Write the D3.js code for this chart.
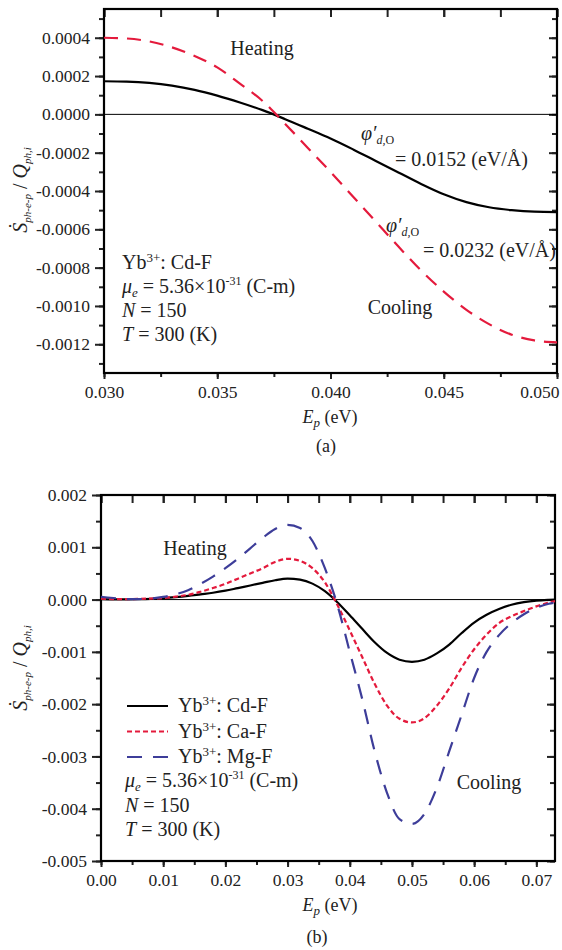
<!DOCTYPE html>
<html>
<head>
<meta charset="utf-8">
<script src="https://cdn.jsdelivr.net/npm/d3@7"></script>
<style>
  body { margin: 0; background: #fff; }
  svg { display: block; }
  text { font-family: "Liberation Serif", "Times New Roman", serif; fill: #222; }
</style>
</head>
<body>
<svg id="chart" width="562" height="950"></svg>
<script>
// ---- panel (a) data ----
const epA = [0.030, 0.031, 0.032, 0.033, 0.034, 0.035, 0.036, 0.037, 0.038, 0.039, 0.040,
             0.041, 0.042, 0.043, 0.044, 0.045, 0.046, 0.047, 0.048, 0.049, 0.050];
// phi'_d,O = 0.0152 eV/A
const sA_0152 = [0.000173, 0.000171, 0.000164, 0.000150, 0.000128, 0.000098, 0.000062, 0.000022,
                 -0.000025, -0.000075, -0.000126, -0.000183, -0.000243, -0.000303, -0.000363,
                 -0.000417, -0.000458, -0.000485, -0.000500, -0.000508, -0.000510];
// phi'_d,O = 0.0232 eV/A
const sA_0232 = [0.000400, 0.000396, 0.000381, 0.000350, 0.000305, 0.000245, 0.000160, 0.000070,
                 -0.000050, -0.000175, -0.000300, -0.000430, -0.000560, -0.000690, -0.000815,
                 -0.000925, -0.001020, -0.001095, -0.001150, -0.001180, -0.001190];
const xTicksA = [0.030, 0.035, 0.040, 0.045, 0.050];
const yTicksA = [0.0004, 0.0002, 0.0000, -0.0002, -0.0004, -0.0006, -0.0008, -0.0010, -0.0012];

// ---- panel (b) data ----
const epB = [0.000, 0.002, 0.004, 0.006, 0.008, 0.010, 0.012, 0.014, 0.016, 0.018, 0.020,
             0.022, 0.024, 0.026, 0.028, 0.030, 0.032, 0.034, 0.036, 0.038, 0.040,
             0.042, 0.044, 0.046, 0.048, 0.050, 0.052, 0.054, 0.056, 0.058, 0.060,
             0.062, 0.064, 0.066, 0.068, 0.070, 0.072, 0.073];
const sB_CdF = [0.000010, 0.000005, 0.000004, 0.000006, 0.000012, 0.000025, 0.000045, 0.000070,
                0.000100, 0.000130, 0.000170, 0.000220, 0.000270, 0.000320, 0.000370, 0.000400,
                0.000381, 0.000305, 0.000160, -0.000050, -0.000300, -0.000560, -0.000815,
                -0.001020, -0.001150, -0.001190, -0.001150, -0.001030, -0.000860, -0.000640,
                -0.000440, -0.000290, -0.000180, -0.000100, -0.000050, -0.000020, -0.000005, 0.000000];
const sB_CaF = [0.000020, 0.000010, 0.000008, 0.000012, 0.000020, 0.000030, 0.000055, 0.000090,
                0.000150, 0.000220, 0.000300, 0.000400, 0.000500, 0.000600, 0.000720, 0.000780,
                0.000740, 0.000600, 0.000330, -0.000100, -0.000590, -0.001100, -0.001610,
                -0.002030, -0.002280, -0.002350, -0.002270, -0.002030, -0.001700, -0.001300,
                -0.000950, -0.000670, -0.000450, -0.000320, -0.000220, -0.000130, -0.000060, -0.000030];
const sB_MgF = [0.000050, 0.000030, 0.000010, 0.000010, 0.000020, 0.000050, 0.000100, 0.000180,
                0.000300, 0.000440, 0.000600, 0.000780, 0.000980, 0.001180, 0.001350, 0.001430,
                0.001370, 0.001120, 0.000600, -0.000100, -0.001000, -0.001900, -0.002900,
                -0.003700, -0.004200, -0.004290, -0.004100, -0.003600, -0.002900, -0.002200,
                -0.001500, -0.001000, -0.000680, -0.000450, -0.000280, -0.000160, -0.000080, -0.000060];
const xTicksB = [0.00, 0.01, 0.02, 0.03, 0.04, 0.05, 0.06, 0.07];
const yTicksB = [0.002, 0.001, 0.000, -0.001, -0.002, -0.003, -0.004, -0.005];

const RED = '#e41a3c', BLUE = '#3d3d99', INK = '#222';

const svg = d3.select('#chart');

function drawFrame(p) {
  const x = d3.scaleLinear().domain(p.xDomain).range([p.x0, p.x1]);
  const y = d3.scaleLinear().domain(p.yDomain).range([p.y1, p.y0]);
  const g = svg.append('g');

  const axes = [
    // left: outward ticks with labels
    { gen: d3.axisLeft, vals: p.yMinor, size: 5, t: `translate(${p.x0},0)`, s: y },
    { gen: d3.axisLeft, vals: p.yTicks, size: 9, t: `translate(${p.x0},0)`, s: y, fmt: p.yFmt, pad: 5 },
    // right: inward
    { gen: d3.axisRight, vals: p.yMinor, size: -5, t: `translate(${p.x1},0)`, s: y },
    { gen: d3.axisRight, vals: p.yTicks, size: -8, t: `translate(${p.x1},0)`, s: y },
    // bottom: outward with labels
    { gen: d3.axisBottom, vals: p.xMinor, size: 4, t: `translate(0,${p.y1})`, s: x },
    { gen: d3.axisBottom, vals: p.xTicks, size: 6, t: `translate(0,${p.y1})`, s: x, fmt: p.xFmt, pad: 7 },
    // top: inward
    { gen: d3.axisTop, vals: p.xMinor, size: -8, t: `translate(0,${p.y0})`, s: x },
    { gen: d3.axisTop, vals: p.xTicks, size: -8, t: `translate(0,${p.y0})`, s: x }
  ];
  axes.forEach(a => {
    const ax = a.gen(a.s).tickValues(a.vals).tickSize(a.size).tickFormat(a.fmt || (() => ''));
    if (a.pad !== undefined) ax.tickPadding(a.pad);
    const ag = g.append('g').attr('transform', a.t).call(ax);
    ag.select('.domain').remove();
    ag.selectAll('line').attr('stroke', INK).attr('stroke-width', 2);
    ag.selectAll('text').attr('font-size', 17.5).attr('fill', INK)
      .attr('font-family', '"Liberation Serif", "Times New Roman", serif');
  });

  // zero line
  g.append('line')
    .attr('x1', p.x0).attr('x2', p.x1)
    .attr('y1', y(0)).attr('y2', y(0))
    .attr('stroke', '#000').attr('stroke-width', 1);

  // frame
  g.append('rect')
    .attr('x', p.x0).attr('y', p.y0)
    .attr('width', p.x1 - p.x0).attr('height', p.y1 - p.y0)
    .attr('fill', 'none').attr('stroke', '#000').attr('stroke-width', 2.2);

  const clipId = 'clip' + p.id;
  svg.append('clipPath').attr('id', clipId).append('rect')
    .attr('x', p.x0).attr('y', p.y0).attr('width', p.x1 - p.x0).attr('height', p.y1 - p.y0);
  const plot = svg.append('g').attr('clip-path', `url(#${clipId})`);

  return { x, y, g, plot };
}

function addLine(ctx, xs, ys, color, dash, width) {
  const line = d3.line()
    .x((d, i) => ctx.x(xs[i]))
    .y(d => ctx.y(d))
    .curve(d3.curveMonotoneX);
  ctx.plot.append('path')
    .datum(ys)
    .attr('fill', 'none')
    .attr('stroke', color)
    .attr('stroke-width', width)
    .attr('stroke-dasharray', dash)
    .attr('d', line);
}

// y-axis label:  S-dot_{ph-e-p} / Q_{ph,i}
function yLabel(cx, cy) {
  const t = svg.append('text')
    .attr('transform', `translate(${cx},${cy}) rotate(-90)`)
    .attr('text-anchor', 'middle')
    .attr('font-size', 20)
    .attr('font-style', 'italic');
  t.append('tspan').text('\u1E60');
  t.append('tspan').attr('font-size', 11).attr('dy', 4).text('ph-e-p');
  t.append('tspan').attr('font-style', 'normal').attr('dy', -4).text(' / ');
  t.append('tspan').text('Q');
  t.append('tspan').attr('font-size', 11).attr('dy', 4).text('ph,i');
}

function xLabel(cx, by) {
  const t = svg.append('text')
    .attr('x', cx).attr('y', by)
    .attr('text-anchor', 'middle')
    .attr('font-size', 18);
  t.append('tspan').attr('font-style', 'italic').text('E');
  t.append('tspan').attr('font-style', 'italic').attr('font-size', 13).attr('dy', 4).text('p');
  t.append('tspan').attr('dy', -4).text(' (eV)');
}

function plainText(x, y, str, size) {
  return svg.append('text').attr('x', x).attr('y', y).attr('font-size', size || 20).text(str);
}

function ybLine(x, y, host) {
  const t = svg.append('text').attr('x', x).attr('y', y).attr('font-size', 20);
  t.append('tspan').text('Yb');
  t.append('tspan').attr('font-size', 13).attr('dy', -7).text('3+');
  t.append('tspan').attr('dy', 7).text(': ' + host);
}

function paramLines(x, y0, step) {
  const mu = svg.append('text').attr('x', x).attr('y', y0).attr('font-size', 20);
  mu.append('tspan').attr('font-style', 'italic').text('\u03BC');
  mu.append('tspan').attr('font-style', 'italic').attr('font-size', 13).attr('dy', 4).text('e');
  mu.append('tspan').attr('dy', -4).text(' = 5.36\u00D710');
  mu.append('tspan').attr('font-size', 12).attr('dy', -8).text('-31');
  mu.append('tspan').attr('dy', 8).text(' (C-m)');

  const n = svg.append('text').attr('x', x).attr('y', y0 + step).attr('font-size', 20);
  n.append('tspan').attr('font-style', 'italic').text('N');
  n.append('tspan').text(' = 150');

  const tt = svg.append('text').attr('x', x).attr('y', y0 + 2 * step).attr('font-size', 20);
  tt.append('tspan').attr('font-style', 'italic').text('T');
  tt.append('tspan').text(' = 300 (K)');
}

// phi'_{d,O} on one line, its value on the next, stepped to the right
function phiLabel(x, y, valueStr, vx, vy) {
  const t = svg.append('text').attr('x', x).attr('y', y).attr('font-size', 20);
  t.append('tspan').attr('font-style', 'italic').text('\u03C6\u2032');
  t.append('tspan').attr('font-style', 'italic').attr('font-size', 12).attr('dy', 4).text('d,');
  t.append('tspan').attr('font-size', 12).text('O');
  svg.append('text').attr('x', vx).attr('y', vy).attr('font-size', 20).text(valueStr);
}

// ---------------- panel (a) ----------------
const A = drawFrame({
  id: 'a',
  xDomain: [0.030, 0.050], yDomain: [-0.00135, 0.00055],
  x0: 104, x1: 557, y0: 9, y1: 373,
  xTicks: xTicksA, yTicks: yTicksA,
  xMinor: d3.range(0, 9).map(i => 0.030 + i * 0.0025),
  yMinor: d3.range(-13, 6).map(i => i * 0.0001),
  xFmt: d => d.toFixed(3), yFmt: d => d.toFixed(4)
});
// shift last x label so it stays inside the picture
A.g.selectAll('text').filter(function () { return d3.select(this).text() === '0.050'; })
  .attr('text-anchor', 'end').attr('dx', 2);

addLine(A, epA, sA_0152, '#000', null, 2.2);
addLine(A, epA, sA_0232, RED, '14,9', 2.2);

yLabel(27, 190);
xLabel(330, 423);
plainText(326, 452, '(a)', 18).attr('text-anchor', 'middle');

plainText(262, 55, 'Heating').attr('text-anchor', 'middle');
plainText(400, 314, 'Cooling').attr('text-anchor', 'middle');
phiLabel(361, 140, '= 0.0152  (eV/\u00C5)', 395, 166);
phiLabel(386, 232, '= 0.0232 (eV/\u00C5)', 423, 257);
ybLine(122, 269, 'Cd-F');
paramLines(122, 293, 24);

// ---------------- panel (b) ----------------
const B = drawFrame({
  id: 'b',
  xDomain: [0, 0.073], yDomain: [-0.005, 0.002],
  x0: 101, x1: 555, y0: 495, y1: 861,
  xTicks: xTicksB, yTicks: yTicksB,
  xMinor: d3.range(0, 15).map(i => i * 0.005),
  yMinor: d3.range(-10, 5).map(i => i * 0.0005),
  xFmt: d => d.toFixed(2), yFmt: d => d.toFixed(3)
});

addLine(B, epB, sB_CdF, '#000', null, 2.2);
addLine(B, epB, sB_CaF, RED, '5,3', 2.2);
addLine(B, epB, sB_MgF, BLUE, '15,11', 2.2);

yLabel(27, 668);
xLabel(330, 911);
plainText(317, 943, '(b)', 18).attr('text-anchor', 'middle');

plainText(195, 555, 'Heating').attr('text-anchor', 'middle');
plainText(489, 789, 'Cooling').attr('text-anchor', 'middle');

// legend
const legend = [
  { host: 'Cd-F', color: '#000', dash: null },
  { host: 'Ca-F', color: RED, dash: '5,3' },
  { host: 'Mg-F', color: BLUE, dash: '15,11' }
];
legend.forEach((d, i) => {
  const yy = 706 + i * 25.5;
  svg.append('line')
    .attr('x1', 127).attr('x2', 168).attr('y1', yy).attr('y2', yy)
    .attr('stroke', d.color).attr('stroke-width', 2.2).attr('stroke-dasharray', d.dash);
  ybLine(178, yy + 6, d.host);
});
paramLines(125, 787, 24.5);
</script>
</body>
</html>
